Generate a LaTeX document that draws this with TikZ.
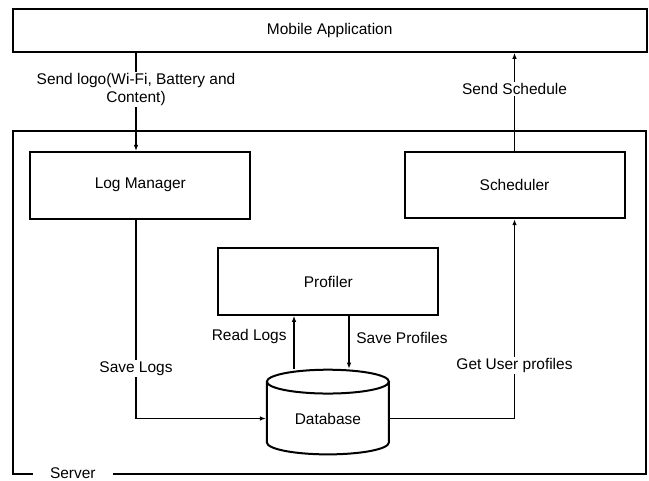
\documentclass[tikz,border=0pt]{standalone}
\usepackage{fontspec}
\setmainfont{Liberation Sans}
\usetikzlibrary{arrows.meta,shapes.geometric}
\begin{document}
\begin{tikzpicture}[x=0.75pt,y=-0.75pt,line width=1.1pt,>={Latex[length=4.5pt,width=3.5pt]},
    font=\fontsize{11.6}{13.5}\selectfont,
    box/.style={draw,line width=1.5pt,minimum width=165pt,minimum height=50pt,inner sep=0pt},
    lbl/.style={fill=white,inner sep=1pt,align=center}]
    \useasboundingbox(0,0)rectangle(649,481);
    % server frame
    \draw[line width=1.5pt](12.7,130.7)rectangle(646,474);
    \node[fill=white,inner xsep=13pt,inner ysep=1pt](srv)at(72.8,473){Server};
    \node[box,minimum width=475.5pt,minimum height=32pt](mob)at(329.7,30.5){Mobile Application};
    \node[box](lm)at(140.35,185.2){Log Manager};
    \node[box](sch)at(514.5,184.9){Scheduler};
    \node[box](prof)at(328.35,281.5){Profiler};
    \node[draw,line width=1.5pt,cylinder,shape border rotate=90,aspect=0.36,
        minimum width=91.5pt,minimum height=63.5pt,inner sep=0pt](db)at(327.9,418.5){Database};
    \coordinate(lx)at(136,0);
    \coordinate(rl)at(294,0);
    \coordinate(sp)at(349,0);
    \draw[->](mob.south-|lx)--node[lbl,pos=0.37]{Send logo(Wi-Fi, Battery and\\Content)}(lm.north-|lx);
    \draw[->](sch.north)--node[lbl,pos=0.63]{Send Schedule}(mob.south-|sch.north);
    \draw[->](lm.south-|lx)|-node[lbl,pos=0.375]{Save Logs}(db.west);
    \draw[->](db.east)-|node[lbl,pos=0.634]{Get User profiles}(sch.south);
    \draw[->](db.north-|rl)--node[pos=0.61,left=5pt,inner sep=0pt]{Read Logs}(prof.south-|rl);
    \draw[->](prof.south-|sp)--node[pos=0.41,right=5pt,inner sep=0pt]{Save Profiles}(db.north-|sp);
\end{tikzpicture}
\end{document}
